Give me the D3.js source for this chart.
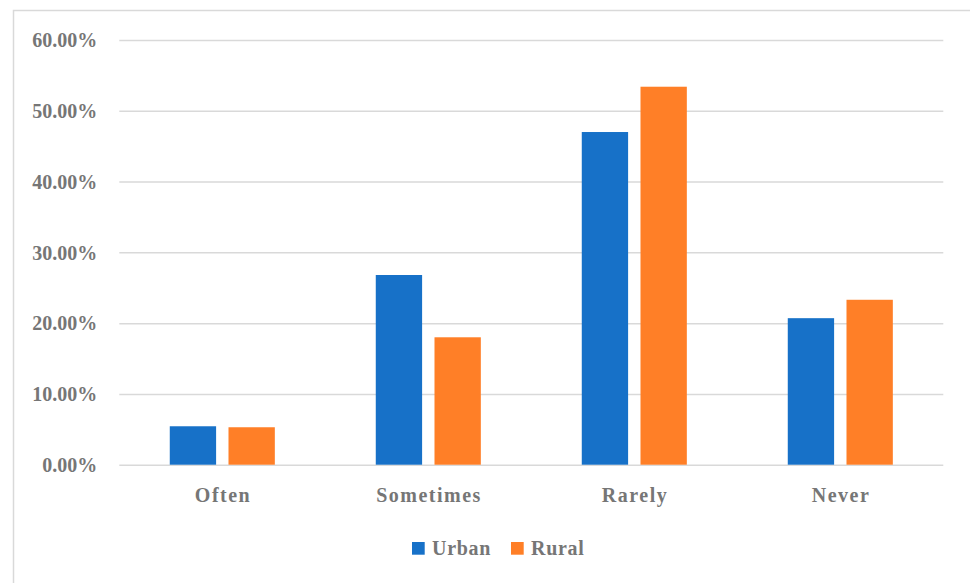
<!DOCTYPE html>
<html>
<head>
<meta charset="utf-8">
<script src="https://cdn.jsdelivr.net/npm/d3@7"></script>
<style>
  html, body { margin: 0; padding: 0; background: #fff; }
  svg { display: block; }
  .lbl { font-family: "Liberation Serif", "Times New Roman", serif; font-weight: bold; fill: #767676; }
</style>
</head>
<body>
<svg id="chart" width="970" height="583"></svg>
<script>
// Frequency categories and shares by area type
const categories = ["Often", "Sometimes", "Rarely", "Never"];
const seriesNames = ["Urban", "Rural"];
const urbanValues = [0.0543, 0.268, 0.470, 0.207];
const ruralValues = [0.0529, 0.180, 0.534, 0.233];
const yTicks = [0, 0.1, 0.2, 0.3, 0.4, 0.5, 0.6];
const colors = ["#1771C8", "#FF7F27"];

const svg = d3.select("#chart");
const W = 970, H = 583;

// Outer chart frame (left and top edges visible)
svg.append("rect")
  .attr("x", 13.5).attr("y", 10.5)
  .attr("width", W).attr("height", H)
  .attr("fill", "none").attr("stroke", "#D9D9D9").attr("stroke-width", 1.5);

const plot = { left: 119.3, right: 943.3, top: 40, bottom: 464.7 };

const y = d3.scaleLinear().domain([0, 0.6]).range([plot.bottom, plot.top]);

const x0 = d3.scaleBand()
  .domain(categories)
  .range([plot.left, plot.right])
  .paddingInner(0.49)
  .paddingOuter(0.245);

const x1 = d3.scaleBand()
  .domain(seriesNames)
  .range([0, x0.bandwidth()])
  .paddingInner(0.211);

// Horizontal gridlines with percentage labels
const yAxis = d3.axisLeft(y)
  .tickValues(yTicks)
  .tickFormat(d => (d * 100).toFixed(2) + "%")
  .tickSize(-(plot.right - plot.left))
  .tickPadding(22);

const gy = svg.append("g")
  .attr("transform", `translate(${plot.left},0)`)
  .call(yAxis);
gy.select(".domain").remove();
gy.selectAll(".tick line").attr("stroke", "#D9D9D9").attr("stroke-width", 1.5);
gy.selectAll(".tick text")
  .attr("class", "lbl")
  .style("font-size", "20px")
  .attr("dy", "0.34em");

// Grouped bars
const rows = categories.map((c, i) => ({ cat: c, vals: [urbanValues[i], ruralValues[i]] }));
const groups = svg.append("g").selectAll("g")
  .data(rows)
  .join("g")
  .attr("transform", d => `translate(${x0(d.cat)},0)`);

groups.selectAll("rect")
  .data(d => d.vals.map((v, j) => ({ key: seriesNames[j], v, j })))
  .join("rect")
  .attr("x", d => x1(d.key))
  .attr("width", x1.bandwidth())
  .attr("y", d => y(d.v))
  .attr("height", d => y(0) - y(d.v))
  .attr("fill", d => colors[d.j]);

// Category axis labels
const xAxis = d3.axisBottom(x0).tickSize(0).tickPadding(0);
const gx = svg.append("g")
  .attr("transform", `translate(0,${plot.bottom})`)
  .call(xAxis);
gx.select(".domain").remove();
gx.selectAll(".tick text")
  .attr("class", "lbl")
  .style("font-size", "20px")
  .style("letter-spacing", "1.5px")
  .attr("x", 0.75)
  .attr("y", 37)
  .attr("dy", 0);

// Legend
const legendX = [412, 511];
const legend = svg.append("g").selectAll("g")
  .data(seriesNames)
  .join("g")
  .attr("transform", (d, i) => `translate(${legendX[i]},542)`);
legend.append("rect")
  .attr("width", 12.7).attr("height", 12.7)
  .attr("fill", (d, i) => colors[i]);
legend.append("text")
  .attr("class", "lbl")
  .attr("x", 20)
  .attr("y", 13)
  .style("font-size", "20px")
  .style("letter-spacing", "0.7px")
  .text(d => d);
</script>
</body>
</html>
